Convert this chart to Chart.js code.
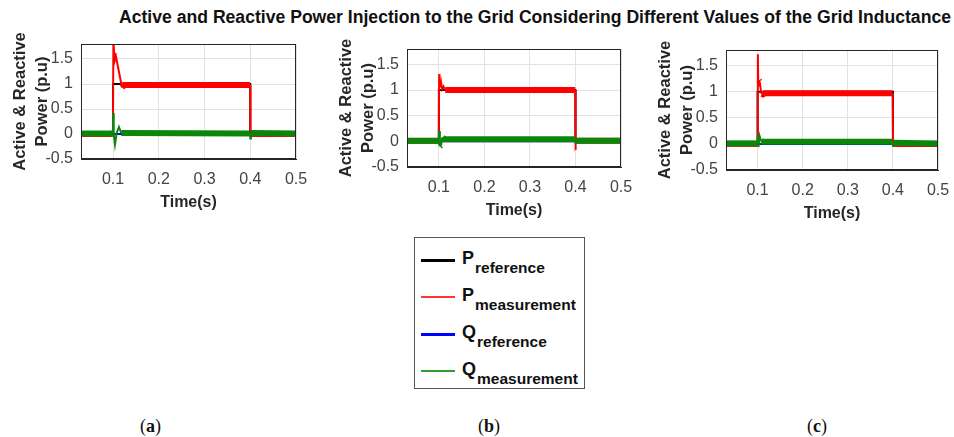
<!DOCTYPE html>
<html>
<head>
<meta charset="utf-8">
<script src="https://cdn.jsdelivr.net/npm/chart.js@4.4.1/dist/chart.umd.min.js"></script>
<style>
  body { margin: 0; background: #fff; width: 954px; height: 437px; position: relative; overflow: hidden;
         font-family: 'Liberation Sans', Arial, sans-serif; }
  .title { position: absolute; top: 7px; left: 0; width: 1070px; text-align: center;
           font-weight: bold; font-size: 17.6px; color: #111; white-space: nowrap; }
  .panel { position: absolute; top: 0; }
  #legend { position: absolute; left: 414px; top: 237px; width: 169px; height: 150px;
            border: 1px solid #555; background: #fff; }
  .entry { position: absolute; left: 0; width: 169px; height: 36px; }
  .entry .swatch { position: absolute; left: 6px; width: 34px; }
  .entry .txt { position: absolute; left: 47px; top: 4px; line-height: 16px; font-weight: bold; color: #111; white-space: nowrap; }
  .entry .sym { font-size: 18px; }
  .entry .sub { font-size: 15.5px; position: relative; top: 9px; margin-left: 1px; }
  .cap { position: absolute; top: 416px; font-family: 'Liberation Serif', 'DejaVu Serif', serif;
         font-size: 18px; color: #111; }
</style>
</head>
<body>
<div class="title">Active and Reactive Power Injection to the Grid Considering Different Values of the Grid Inductance</div>

<div class="panel" id="pa" style="left:9px;width:303px;height:213px"><canvas id="ca"></canvas></div>
<div class="panel" id="pb" style="left:335px;width:302px;height:221px"><canvas id="cb"></canvas></div>
<div class="panel" id="pc" style="left:654px;width:300px;height:224px"><canvas id="cc"></canvas></div>

<div id="legend"></div>

<div class="cap" style="left:140px">(<b>a</b>)</div>
<div class="cap" style="left:478px">(<b>b</b>)</div>
<div class="cap" style="left:807px">(<b>c</b>)</div>

<script>
// axes
const xTicks = [0.1, 0.2, 0.3, 0.4, 0.5];
const yTicks = [-0.5, 0, 0.5, 1, 1.5];
const xMin = 0.03, xMax = 0.5;
const yMin = -0.5, yMax = 1.8;

// reference signals (same step in every case)
const pRefT = [0.03, 0.1, 0.1, 0.4, 0.4, 0.5];
const pRefV = [0, 0, 1, 1, 0, 0];
const qRefT = [0.03, 0.5];
const qRefV = [0, 0];

// (a) measured
const pMeasT_a = [0.03, 0.0998, 0.1008, 0.1025, 0.1043, 0.1065, 0.1196, 0.124, 0.3995, 0.4005, 0.5];
const pMeasV_a = [0.0, 0.0, 1.9, 1.62, 1.48, 1.55, 0.93, 0.98, 0.98, 0.0, 0.0];
const qMeasT_a = [0.03, 0.0998, 0.1003, 0.1015, 0.1043, 0.108, 0.113, 0.118, 0.399, 0.4003, 0.4015, 0.5];
const qMeasV_a = [0.01, 0.01, 0.42, 0.0, -0.21, 0.02, 0.14, 0.02, 0.01, -0.09, 0.02, 0.01];

// (b) measured
const pMeasT_b = [0.03, 0.0998, 0.1006, 0.1015, 0.1025, 0.1035, 0.105, 0.107, 0.11, 0.114, 0.3995, 0.4001, 0.4006, 0.402, 0.5];
const pMeasV_b = [0.01, 0.01, 1.31, 1.08, 1.2, 1.05, 1.14, 1.02, 1.07, 1.0, 1.0, -0.17, -0.05, 0.01, 0.01];
const qMeasT_b = [0.03, 0.0998, 0.1004, 0.1022, 0.1045, 0.108, 0.112, 0.3995, 0.4003, 0.4015, 0.5];
const qMeasV_b = [0.01, 0.01, 0.2, -0.1, -0.08, 0.08, 0.04, 0.04, -0.05, 0.01, 0.01];

// (c) measured
const pMeasT_c = [0.03, 0.0998, 0.1006, 0.1016, 0.103, 0.1045, 0.107, 0.109, 0.112, 0.116, 0.3995, 0.4004, 0.5];
const pMeasV_c = [0.0, 0.0, 1.72, 1.12, 1.22, 1.2, 1.05, 0.96, 0.95, 0.97, 0.97, 0.0, 0.0];
const qMeasT_c = [0.03, 0.0998, 0.1004, 0.102, 0.1045, 0.108, 0.112, 0.3995, 0.4003, 0.4015, 0.5];
const qMeasV_c = [0.01, 0.01, 0.16, -0.06, 0.15, 0.05, 0.04, 0.04, -0.04, 0.02, 0.01];

// legend
const legendSyms = ['P', 'P', 'Q', 'Q'];
const legendSubs = ['reference', 'measurement', 'reference', 'measurement'];
const legendColors = ['#000000', '#ff3535', '#0000ff', '#2f9f2f'];
const legendWidths = [3, 2, 3, 2];

const COLORS = { pRef: '#000000', pMeas: '#ff0000', qRef: '#0000ff', qMeas: '#0a870a' };
const FONT = "'Liberation Sans', Arial, sans-serif";

const pts = (t, v) => t.map((x, i) => ({ x, y: v[i] }));

// noisy steady parts look like a thick band, fast transients stay thin
const bandWidth = c => Math.abs(c.p1.parsed.y - c.p0.parsed.y) > 0.05 ? 2 : 6;

const boxPlugin = {
  id: 'box',
  afterDraw(chart) {
    const { ctx, chartArea: a } = chart;
    ctx.save();
    ctx.strokeStyle = '#262626';
    ctx.lineWidth = 1;
    ctx.strokeRect(Math.round(a.left) + 0.5, Math.round(a.top) + 0.5, Math.round(a.width) - 1, Math.round(a.height) - 1);
    ctx.restore();
  },
};

function renderPanel(canvasId, top, pMeasT, pMeasV, qMeasT, qMeasV) {
  const ctx = document.getElementById(canvasId);
  return new Chart(ctx, {
    type: 'line',
    data: {
      datasets: [
        { label: 'Q measurement', data: pts(qMeasT, qMeasV), borderColor: COLORS.qMeas,
          borderWidth: 6, segment: { borderWidth: bandWidth } },
        { label: 'Q reference', data: pts(qRefT, qRefV), borderColor: COLORS.qRef, borderWidth: 2 },
        { label: 'P measurement', data: pts(pMeasT, pMeasV), borderColor: COLORS.pMeas,
          borderWidth: 6, segment: { borderWidth: bandWidth } },
        { label: 'P reference', data: pts(pRefT, pRefV), borderColor: COLORS.pRef, borderWidth: 2 },
      ],
    },
    options: {
      responsive: true,
      maintainAspectRatio: false,
      animation: false,
      events: [],
      layout: { padding: { top, right: 16, left: 0, bottom: 0 } },
      datasets: { line: { pointRadius: 0, tension: 0, clip: 0, fill: false } },
      plugins: { legend: { display: false }, tooltip: { enabled: false } },
      scales: {
        x: {
          type: 'linear', min: xMin, max: xMax,
          afterBuildTicks: s => { s.ticks = xTicks.map(value => ({ value })); },
          afterFit: s => { s.height = 54; s.paddingLeft = 0; s.paddingRight = 0; },
          grid: { color: '#e2e2e2', drawTicks: false },
          border: { color: '#262626' },
          ticks: { color: '#444', padding: 11, font: { family: FONT, size: 16 }, callback: v => String(v), maxRotation: 0 },
          title: { display: true, text: 'Time(s)', color: '#262626', padding: { top: 0, bottom: 0.5 },
                   font: { family: FONT, size: 16, weight: 'bold', lineHeight: 1.2 } },
        },
        y: {
          type: 'linear', min: yMin, max: yMax,
          afterBuildTicks: s => { s.ticks = yTicks.map(value => ({ value })); },
          afterFit: s => { s.width = 72; s.paddingTop = 0; s.paddingBottom = 0; },
          grid: { color: '#e2e2e2', drawTicks: false },
          border: { color: '#262626' },
          ticks: { color: '#444', padding: 8, font: { family: FONT, size: 16 }, callback: v => String(v) },
          title: { display: true, text: ['Active & Reactive', 'Power (p.u)'], color: '#262626', padding: { top: 1, bottom: 0 },
                   font: { family: FONT, size: 16.5, weight: 'bold', lineHeight: 1.3 } },
        },
      },
    },
    plugins: [boxPlugin],
  });
}

renderPanel('ca', 44, pMeasT_a, pMeasV_a, qMeasT_a, qMeasV_a);
renderPanel('cb', 49, pMeasT_b, pMeasV_b, qMeasT_b, qMeasV_b);
renderPanel('cc', 50, pMeasT_c, pMeasV_c, qMeasT_c, qMeasV_c);

// legend box
const legend = document.getElementById('legend');
legendSyms.forEach((sym, i) => {
  const e = document.createElement('div');
  e.className = 'entry';
  e.style.top = (8 + i * 37) + 'px';
  const w = legendWidths[i];
  e.innerHTML =
    `<div class="swatch" style="top:${Math.round(14 - w / 2)}px;height:${w}px;background:${legendColors[i]}"></div>` +
    `<div class="txt"><span class="sym">${sym}</span><span class="sub">${legendSubs[i]}</span></div>`;
  legend.appendChild(e);
});
</script>
</body>
</html>
